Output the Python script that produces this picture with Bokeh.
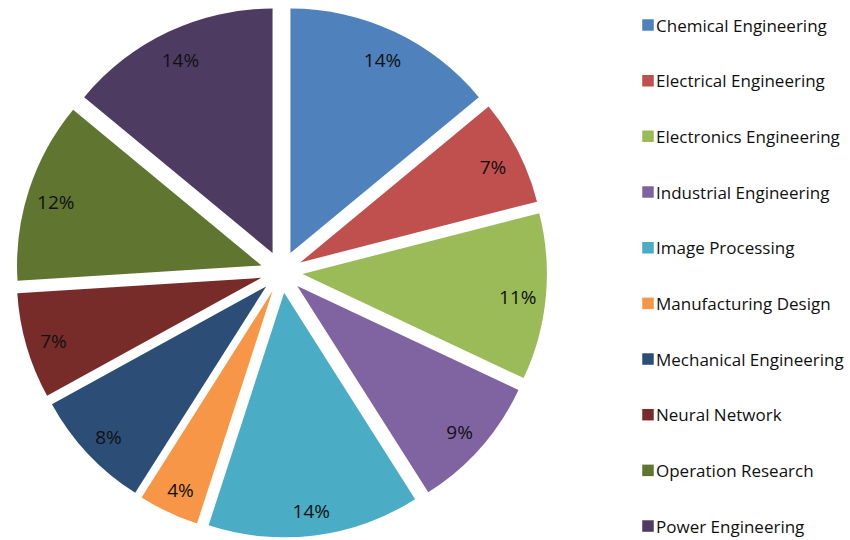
import numpy as np
from bokeh.plotting import figure
from bokeh.models import ColumnDataSource, Range1d
from bokeh.core.properties import value
from bokeh.embed import file_html
from bokeh.resources import INLINE

categories = ["Chemical Engineering", "Electrical Engineering", "Electronics Engineering",
              "Industrial Engineering", "Image Processing", "Manufacturing Design",
              "Mechanical Engineering", "Neural Network", "Operation Research",
              "Power Engineering"]
shares = [14, 7, 11, 9, 14, 4, 8, 7, 12, 14]
labels = ["14%", "7%", "11%", "9%", "14%", "4%", "8%", "7%", "12%", "14%"]
colors = ["#4F81BD", "#C0504D", "#9BBB59", "#8064A2", "#4BACC6",
          "#F79646", "#2C4D75", "#772C2A", "#5F7530", "#4D3B62"]

W, H = 850, 540
CX, CY = 281, H - 271.5
R = 244.5
EXPLODE = 21
LABEL_R = 0.885 * R

vals = np.array(shares, dtype=float)
frac = vals / vals.sum()
cum = np.concatenate([[0], np.cumsum(frac)])
# clockwise-from-top angles (radians)
t1 = cum[:-1] * 2 * np.pi
t2 = cum[1:] * 2 * np.pi
tm = (t1 + t2) / 2
ox = CX + EXPLODE * np.sin(tm)
oy = CY + EXPLODE * np.cos(tm)

src = ColumnDataSource(dict(
    x=ox, y=oy,
    start=np.pi / 2 - t2, end=np.pi / 2 - t1,
    color=colors,
    lx=ox + LABEL_R * np.sin(tm), ly=oy + LABEL_R * np.cos(tm),
    label=labels,
))

p = figure(width=W, height=H, output_backend="svg", toolbar_location=None,
           x_range=Range1d(0, W), y_range=Range1d(0, H),
           x_axis_location=None, y_axis_location=None, min_border=0)
p.grid.visible = False
p.outline_line_color = None
p.background_fill_color = "white"

p.wedge(x="x", y="y", radius=R, start_angle="start", end_angle="end",
        fill_color="color", line_color=None, source=src)
p.text(x="lx", y="ly", text="label", source=src, text_align="center",
       text_baseline="middle", text_font=value("Open Sans"), text_font_size="19px",
       text_color="#111111", y_offset=3)

# legend
idx = np.arange(len(categories))
leg_y = H - (24.5 + idx * 55.67)
leg = ColumnDataSource(dict(sx=np.full(len(categories), 647.5), tx=np.full(len(categories), 655.5),
                            y=leg_y, color=colors, name=categories))
p.scatter(x="sx", y="y", marker="square", size=11.5, fill_color="color", line_color=None, source=leg)
p.text(x="tx", y="y", text="name", source=leg, text_align="left", text_baseline="middle",
       text_font=value("Open Sans"), text_font_size="17px", text_color="#111111")

open("out.html", "w").write(file_html(p, INLINE))
